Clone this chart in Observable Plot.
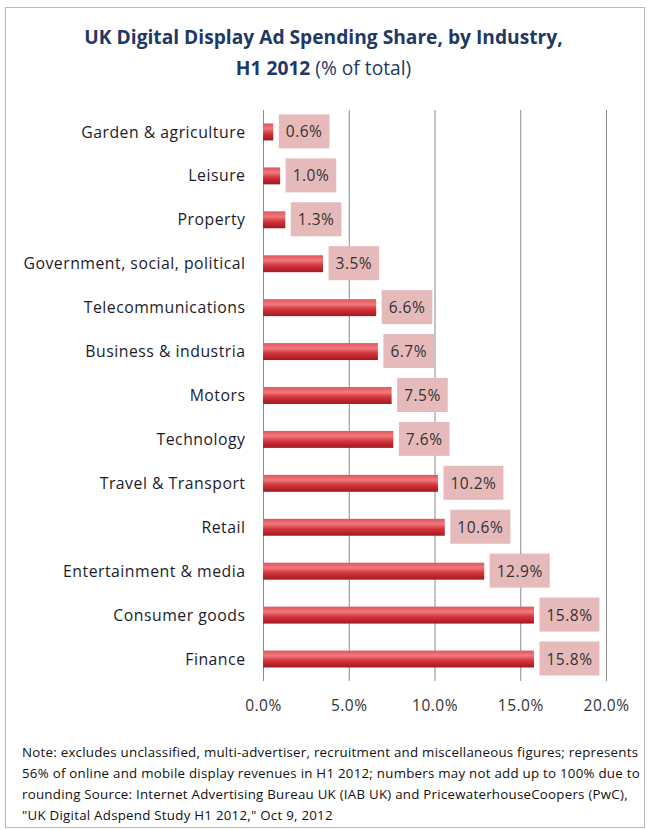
<!DOCTYPE html>
<html>
<head>
<meta charset="utf-8">
<script src="https://cdn.jsdelivr.net/npm/d3@7"></script>
<script src="https://cdn.jsdelivr.net/npm/@observablehq/plot@0.6"></script>
<style>
  html, body { margin: 0; padding: 0; background: #fff; }
  #frame { position: absolute; left: 5px; top: 7px; width: 640px; height: 821px; border: 1px solid #b8b8b8; box-sizing: border-box; background: #fff; }
  #title { position: absolute; left: 0; top: 21px; width: 647px; text-align: center; font-family: "Open Sans", sans-serif; font-weight: 700; font-size: 19.2px; line-height: 31px; color: #1f3864; }
  #chart { position: absolute; left: 0; top: 90px; }
  #note { position: absolute; left: 22px; top: 742px; width: 620px; font-family: "Open Sans", sans-serif; font-size: 13.3px; letter-spacing: 0.25px; line-height: 21px; color: #111; white-space: pre; }
  .lbl text { letter-spacing: 0.5px; }
</style>
</head>
<body>
<div id="frame"></div>
<div id="title">UK Digital Display Ad Spending Share, by Industry,<br>H1 2012 <span style="font-weight:400">(% of total)</span></div>
<div id="chart"></div>
<div id="note"></div>
<script>
const industries = ["Garden & agriculture", "Leisure", "Property", "Government, social, political", "Telecommunications", "Business & industria", "Motors", "Technology", "Travel & Transport", "Retail", "Entertainment & media", "Consumer goods", "Finance"];
const shares = [0.6, 1.0, 1.3, 3.5, 6.6, 6.7, 7.5, 7.6, 10.2, 10.6, 12.9, 15.8, 15.8];
const xTicks = [0, 5, 10, 15, 20];
const noteLines = [
  "Note: excludes unclassified, multi-advertiser, recruitment and miscellaneous figures; represents",
  "56% of online and mobile display revenues in H1 2012; numbers may not add up to 100% due to",
  "rounding Source: Internet Advertising Bureau UK (IAB UK) and PricewaterhouseCoopers (PwC),",
  "\"UK Digital Adspend Study H1 2012,\" Oct 9, 2012"
];

const data = industries.map((name, i) => ({name, value: shares[i]}));
const pct = d => d.toFixed(1) + "%";

const plot = Plot.plot({
  width: 647,
  height: 635,
  marginTop: 20,
  marginBottom: 44,
  marginLeft: 263,
  marginRight: 41,
  style: { fontFamily: "'Open Sans', sans-serif", fontSize: "15.5px", color: "#222", background: "transparent" },
  x: { domain: [0, 20], label: null },
  y: { domain: industries, padding: 0, round: false, label: null },
  marks: [
    Plot.ruleX(xTicks, { stroke: "#8a8a8a", strokeWidth: 1 }),
    Plot.barX(data, { y: "name", x: "value", fill: "url(#barGrad)", insetTop: 13.5, insetBottom: 13.5 }),
    Plot.text(data, { y: "name", x: "value", text: d => pct(d.value), textAnchor: "start", dx: 12, fill: "#333", fontSize: 15.5, className: "vlabel lbl" }),
    Plot.axisX({ ticks: xTicks, tickFormat: pct, tickSize: 0, tickPadding: 18, fontSize: 15.5, fill: "#333", label: null, className: "lbl" }),
    Plot.axisY({ tickSize: 0, tickPadding: 18, fontSize: 15.8, fill: "#1b1b2b", label: null, className: "lbl" })
  ]
});

// gradient for bars
const svg = d3.select(plot);
const defs = svg.insert("defs", ":first-child");
const g = defs.append("linearGradient").attr("id", "barGrad").attr("x1", 0).attr("y1", 0).attr("x2", 0).attr("y2", 1);
g.append("stop").attr("offset", "0%").attr("stop-color", "#e0545a");
g.append("stop").attr("offset", "30%").attr("stop-color", "#f07a7e");
g.append("stop").attr("offset", "60%").attr("stop-color", "#d4343b");
g.append("stop").attr("offset", "100%").attr("stop-color", "#9e1a20");

document.getElementById("chart").appendChild(plot);
document.getElementById("note").textContent = noteLines.join("\n");

// label boxes behind value labels
svg.selectAll("g.vlabel text").each(function() {
  const bb = this.getBBox();
  d3.select(this.parentNode).insert("rect", () => this)
    .attr("transform", this.getAttribute("transform"))
    .attr("x", bb.x - 7).attr("y", bb.y - 6)
    .attr("width", bb.width + 14).attr("height", bb.height + 12)
    .attr("fill", "#e6b9ba");
});
</script>
</body>
</html>
